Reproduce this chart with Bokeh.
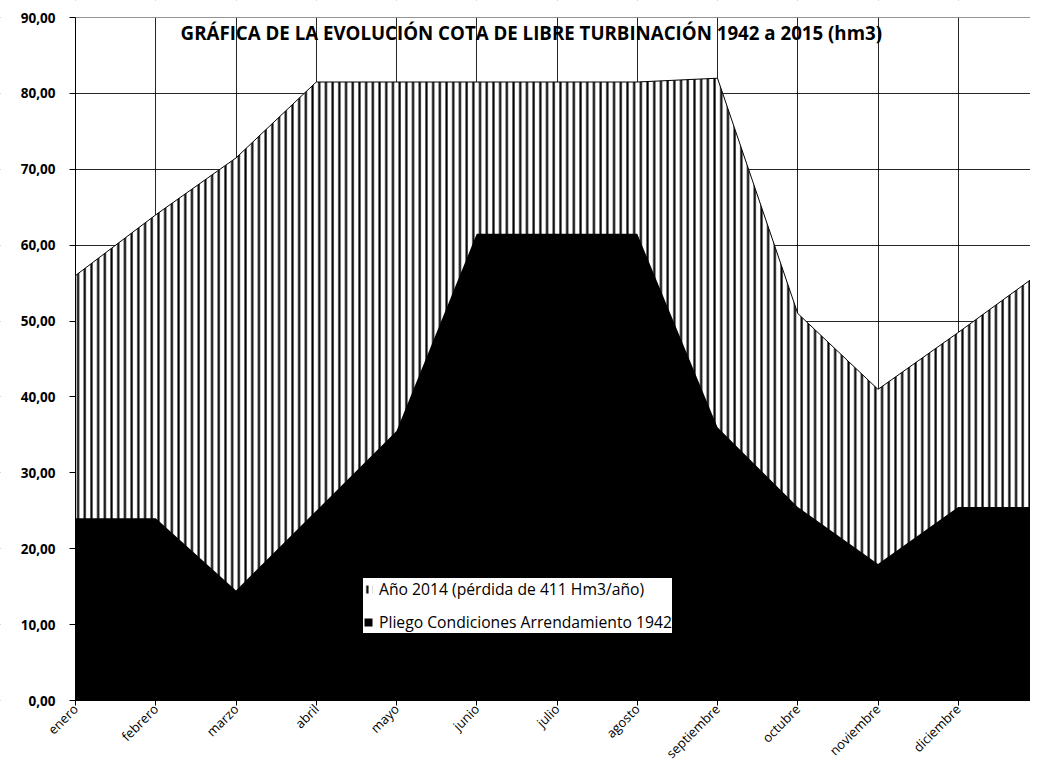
import numpy as np
from bokeh.plotting import figure
from bokeh.models import (Range1d, FixedTicker, Legend, LegendItem, Label,
                          BoxAnnotation)
from bokeh.embed import file_html
from bokeh.resources import INLINE

# ---- data ----
months = ["enero", "febrero", "marzo", "abril", "mayo", "junio", "julio",
          "agosto", "septiembre", "octubre", "noviembre", "diciembre", ""]
anio_2014 = [56.0, 64.0, 71.5, 81.5, 81.5, 81.5, 81.5, 81.5, 82.0, 51.0, 41.0, 48.5, 56.2]
pliego_1942 = [24.0, 24.0, 14.5, 25.0, 35.5, 61.5, 61.5, 61.5, 36.0, 25.5, 18.0, 25.5, 25.5]
y_ticks = [0, 10, 20, 30, 40, 50, 60, 70, 80, 90]
y_tick_labels = ["0,00", "10,00", "20,00", "30,00", "40,00", "50,00",
                 "60,00", "70,00", "80,00", "90,00"]
title_text = "GRÁFICA DE LA EVOLUCIÓN COTA DE LIBRE TURBINACIÓN 1942 a 2015 (hm3)"
legend_labels = ["Año 2014 (pérdida de 411 Hm3/año)",
                 "Pliego Condiciones Arrendamiento 1942"]

x = list(range(len(months)))
Y_MAX = y_ticks[-1]

# ---- layout (pixels) ----
W, H = 1030, 764
LEFT, TOP = 75, 17          # position of the value axis / top of the value range
AXIS_Y = 700                # pixel row of the category axis
px_per_cat = 80.25
px_per_unit = (AXIS_Y - TOP) / Y_MAX

# the frame covers the whole canvas; axes sit at x = 0 and y = 0
x_lo = -LEFT / px_per_cat
x_hi = (W - LEFT) / px_per_cat
y_lo = -(H - AXIS_Y) / px_per_unit
y_hi = Y_MAX + TOP / px_per_unit

p = figure(width=W, height=H, output_backend="svg", toolbar_location=None,
           x_range=Range1d(x_lo, x_hi), y_range=Range1d(y_lo, y_hi),
           min_border_left=0, min_border_right=0, min_border_top=0,
           min_border_bottom=0)
p.outline_line_color = None
p.background_fill_color = "white"

r1 = p.varea(x=x, y1=0, y2=anio_2014, fill_color="white",
             hatch_pattern="vertical_line", hatch_color="black",
             hatch_scale=6.7, hatch_weight=2.2)
p.line(x=x, y=anio_2014, line_color="black", line_width=1)
r2 = p.varea(x=x, y1=0, y2=pliego_1942, fill_color="black")

# category axis at y = 0
p.xaxis.fixed_location = 0
p.xaxis.bounds = (0, x_hi)
p.xaxis.ticker = FixedTicker(ticks=x)
p.xaxis.major_label_overrides = {i: m for i, m in enumerate(months)}
p.xaxis.major_label_orientation = np.pi / 4
p.xaxis.major_label_text_font = "Open Sans"
p.xaxis.major_label_text_font_size = "13px"
p.xaxis.major_label_text_color = "black"
p.xaxis.major_label_standoff = 1

# value axis at x = 0
p.yaxis.fixed_location = 0
p.yaxis.bounds = (0, Y_MAX)
p.yaxis.ticker = FixedTicker(ticks=y_ticks)
p.yaxis.major_label_overrides = {t: l for t, l in zip(y_ticks, y_tick_labels)}
p.yaxis.major_label_text_font = "Open Sans"
p.yaxis.major_label_text_font_style = "bold"
p.yaxis.major_label_text_font_size = "13.5px"
p.yaxis.major_label_text_color = "black"
p.yaxis.major_label_standoff = 14

for ax in (p.xaxis, p.yaxis):
    ax.axis_line_color = "black"
    ax.axis_line_width = 1
    ax.major_tick_line_color = "black"
    ax.major_tick_out = 5
    ax.major_tick_in = 0
    ax.minor_tick_line_color = None
p.yaxis.major_tick_out = 6

p.xgrid.ticker = FixedTicker(ticks=x)
p.ygrid.ticker = FixedTicker(ticks=y_ticks)
for g in (p.xgrid, p.ygrid):
    g.grid_line_color = "black"
    g.grid_line_width = 1
    g.grid_line_alpha = 0.85

# keep the margins (outside 0..Y_MAX and left of the value axis) clean of grid lines
for box in (BoxAnnotation(top=0), BoxAnnotation(bottom=Y_MAX), BoxAnnotation(right=0)):
    box.fill_color = "white"
    box.fill_alpha = 1.0
    box.line_color = None
    box.level = "underlay"
    p.add_layout(box)

# title inside plot area
title = Label(x=5.68, y=88.0, text=title_text, text_font="Open Sans",
              text_font_style="bold", text_font_size="18.7px",
              text_align="center", text_baseline="middle", text_color="black")
p.add_layout(title)

legend = Legend(items=[LegendItem(label=legend_labels[0], renderers=[r1]),
                       LegendItem(label=legend_labels[1], renderers=[r2])],
                location=(LEFT + 288, (H - AXIS_Y) + 67), orientation="vertical")
legend.background_fill_color = "white"
legend.background_fill_alpha = 1.0
legend.border_line_color = None
legend.padding = 8
legend.spacing = 11
legend.margin = 0
legend.label_height = 20
legend.glyph_height = 10
legend.glyph_width = 10
legend.label_standoff = 6
legend.label_text_font = "Open Sans"
legend.label_text_font_size = "15.7px"
legend.label_text_color = "black"
p.add_layout(legend)

open("out.html", "w").write(file_html(p, INLINE))
